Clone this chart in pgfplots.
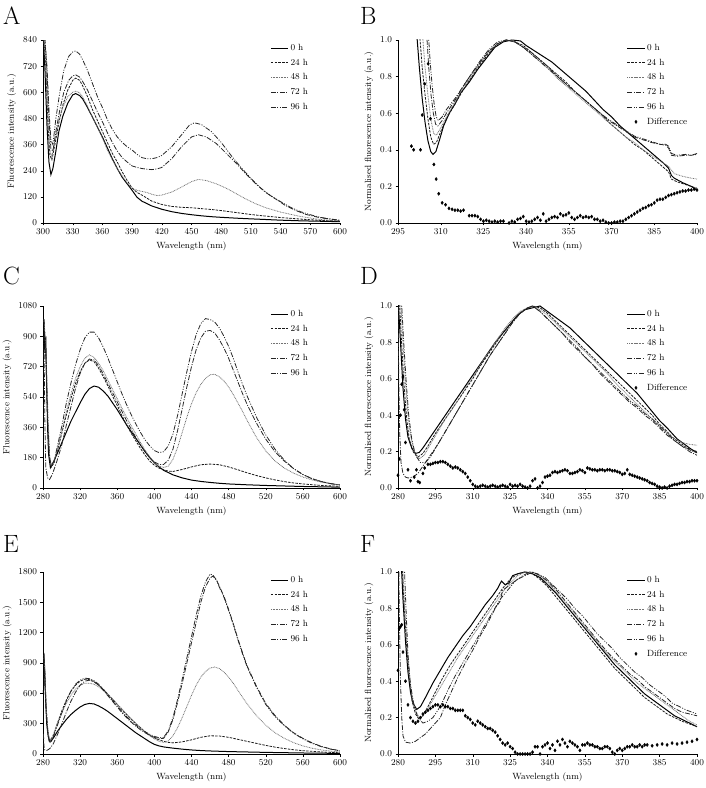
\documentclass[border=0pt]{standalone}
\usepackage{pgfplots}
\pgfplotsset{compat=1.18}
\pgfplotsset{
  base/.style={scale only axis, width=297pt, height=183pt, anchor=south west,
    axis lines=left, axis line style={-, thin, black}, tick align=outside,
    major tick length=2.5pt, tick style={thin, black},
    ticklabel style={font=\fontsize{9}{10}\selectfont},
    /pgf/number format/1000 sep={},
    label style={font=\fontsize{9}{10}\selectfont},
    xlabel={Wavelength (nm)}, ymin=0,
    legend style={draw=none, fill=none, font=\fontsize{9}{10}\selectfont,
      at={(0.755,1.0)}, anchor=north west, row sep=3pt},
    legend cell align=left},
  normy/.style={ylabel={Normalised fluorescence intensity (a.u.)}, ymax=1.0,
    ytick={0,0.2,0.4,0.6,0.8,1.0},
    yticklabel style={/pgf/number format/.cd, fixed, fixed zerofill, precision=1}},
  s0/.style={black, line width=1pt, solid, no marks},
  s24/.style={black!90, line width=0.8pt, dash pattern=on 2.5pt off 1.2pt, no marks},
  s48/.style={black!55, line width=0.8pt, dash pattern=on 0.8pt off 0.8pt, no marks},
  s72/.style={black!85, line width=0.8pt, dash pattern=on 5pt off 1.5pt on 1pt off 1.5pt, no marks},
  s96/.style={black!85, line width=0.8pt, dash pattern=on 5pt off 1.5pt on 1pt off 1.5pt on 1pt off 1.5pt, no marks},
  sd/.style={only marks, mark=diamond*, mark size=1.6pt, black},
}
\begin{document}
\begin{tikzpicture}
\path[use as bounding box] (0,0) rectangle (706pt,788pt);
\node[anchor=base west, font=\fontsize{25}{25}\selectfont, inner sep=0] at (3pt,763pt) {A};
\node[anchor=base west, font=\fontsize{25}{25}\selectfont, inner sep=0] at (360pt,763pt) {B};
\node[anchor=base west, font=\fontsize{25}{25}\selectfont, inner sep=0] at (3pt,503pt) {C};
\node[anchor=base west, font=\fontsize{25}{25}\selectfont, inner sep=0] at (360pt,503pt) {D};
\node[anchor=base west, font=\fontsize{25}{25}\selectfont, inner sep=0] at (3pt,235pt) {E};
\node[anchor=base west, font=\fontsize{25}{25}\selectfont, inner sep=0] at (360pt,235pt) {F};

% ---------------- A ----------------
\begin{axis}[base, at={(43pt,565pt)}, xmin=300, xmax=600, ymax=840,
  xtick={300,330,...,600}, ytick={0,120,...,840},
  ylabel={Fluorescence intensity (a.u.)}]
\addplot[s0] coordinates {(300,900)(302,700)(304,450)(306,280)(308,222)(310,250)(313,330)(316,420)(320,490)(325,550)(330,588)(333,594)(337,585)(340,570)(345,530)(350,485)(355,440)(360,395)(365,345)(370,295)(375,250)(380,210)(385,180)(390,150)(395,118)(400,100)(410,78)(420,63)(430,52)(440,44)(450,38)(460,33)(470,29)(480,26)(500,21)(520,17)(540,13)(560,10)(580,8)(600,6)};
\addplot[s24] coordinates {(300,900)(303,700)(305,450)(307,310)(309,290)(312,360)(316,460)(320,540)(325,610)(330,655)(333,665)(337,655)(340,630)(345,580)(350,520)(355,470)(360,420)(365,370)(370,320)(375,280)(380,235)(385,195)(390,160)(395,140)(400,128)(410,100)(420,85)(430,76)(440,72)(450,70)(460,66)(470,62)(480,57)(490,51)(500,45)(510,39)(520,34)(540,25)(560,18)(580,12)(600,8)};
\addplot[s48] coordinates {(300,900)(303,700)(305,480)(307,330)(309,305)(312,380)(316,470)(320,530)(325,580)(330,600)(333,605)(337,598)(340,580)(345,535)(350,485)(355,440)(360,390)(365,335)(370,290)(375,250)(380,215)(385,185)(390,160)(395,150)(400,145)(405,140)(410,132)(415,126)(420,128)(430,142)(440,165)(450,190)(457,200)(465,195)(475,180)(485,160)(495,135)(505,110)(515,88)(525,70)(540,50)(560,30)(580,16)(600,9)};
\addplot[s72] coordinates {(301,900)(304,700)(306,480)(308,340)(310,330)(313,420)(317,520)(321,600)(326,655)(330,675)(333,680)(337,670)(340,650)(345,610)(350,560)(355,510)(360,465)(365,415)(370,370)(375,330)(380,300)(385,280)(390,262)(395,255)(400,250)(405,247)(410,245)(415,248)(420,255)(430,295)(440,350)(450,395)(457,405)(465,395)(475,365)(485,320)(495,275)(505,225)(515,180)(525,140)(535,110)(545,80)(555,58)(565,40)(580,24)(600,12)};
\addplot[s96] coordinates {(301,900)(304,720)(306,520)(308,380)(310,360)(313,480)(317,600)(321,700)(326,765)(330,785)(333,790)(337,775)(340,750)(345,700)(350,640)(355,580)(360,530)(365,475)(370,430)(375,395)(380,370)(385,350)(390,335)(395,315)(400,300)(405,295)(410,295)(415,300)(420,310)(430,350)(440,405)(448,450)(453,460)(460,452)(470,420)(480,370)(490,310)(500,255)(510,205)(520,160)(530,125)(540,98)(550,72)(560,52)(570,38)(580,26)(600,12)};
\legend{0 h,24 h,48 h,72 h,96 h}
\end{axis}

% ---------------- B ----------------
\begin{axis}[base, normy, at={(398pt,565pt)}, width=299pt, xmin=295, xmax=400,
  xtick={295,310,...,400}]
\addplot[s0] coordinates {(301.5,1.05)(302.5,0.85)(303.5,0.68)(304.5,0.55)(305.5,0.45)(306.5,0.39)(307.3,0.375)(308.3,0.39)(309.5,0.45)(311,0.53)(313,0.6)(315,0.65)(317,0.71)(320,0.77)(323,0.84)(326,0.9)(329,0.96)(332,0.99)(335,1.0)(338,0.995)(340,0.97)(343,0.94)(346,0.91)(349,0.88)(352,0.84)(355,0.8)(358,0.76)(361,0.72)(364,0.67)(367,0.62)(370,0.58)(373,0.53)(376,0.49)(379,0.45)(382,0.41)(385,0.37)(388,0.33)(390,0.3)(391,0.26)(392,0.245)(395,0.22)(398,0.2)(400,0.18)};
\addplot[s24] coordinates {(302.5,1.05)(303.5,0.85)(304.5,0.7)(305.5,0.57)(306.5,0.47)(307.5,0.43)(308.5,0.44)(310,0.5)(312,0.57)(315,0.65)(318,0.73)(321,0.8)(324,0.87)(327,0.93)(330,0.98)(333,1.0)(336,0.99)(339,0.97)(342,0.93)(345,0.89)(348,0.85)(351,0.81)(354,0.77)(357,0.72)(360,0.68)(363,0.64)(366,0.6)(369,0.55)(372,0.51)(375,0.47)(378,0.43)(381,0.4)(384,0.36)(387,0.32)(390,0.28)(391,0.24)(393,0.225)(396,0.21)(400,0.19)};
\addplot[s48] coordinates {(303.5,1.05)(304.5,0.85)(305.5,0.7)(306.5,0.57)(307.5,0.49)(308.5,0.48)(310,0.52)(312,0.58)(315,0.66)(318,0.74)(321,0.81)(324,0.88)(327,0.94)(330,0.98)(333,1.0)(336,0.99)(339,0.96)(342,0.92)(345,0.88)(348,0.84)(351,0.79)(354,0.75)(357,0.71)(360,0.67)(363,0.63)(366,0.59)(369,0.55)(372,0.51)(375,0.47)(378,0.44)(381,0.4)(384,0.37)(387,0.34)(390,0.31)(392,0.27)(395,0.255)(398,0.245)(400,0.24)};
\addplot[s72] coordinates {(305,1.05)(305.8,0.85)(306.6,0.7)(307.4,0.6)(308.2,0.54)(309,0.53)(310.5,0.56)(312,0.6)(315,0.67)(318,0.75)(321,0.82)(324,0.88)(327,0.94)(330,0.98)(333,1.0)(336,0.99)(339,0.96)(342,0.93)(345,0.89)(348,0.85)(351,0.8)(354,0.76)(357,0.72)(360,0.68)(363,0.64)(366,0.6)(369,0.56)(372,0.53)(375,0.5)(378,0.47)(381,0.455)(384,0.44)(387,0.43)(389,0.425)(390,0.41)(391,0.37)(393,0.365)(396,0.37)(398,0.37)(400,0.375)};
\addplot[s96] coordinates {(305.6,1.05)(306.3,0.88)(307,0.75)(307.7,0.65)(308.4,0.58)(309.2,0.56)(310.5,0.58)(312,0.62)(315,0.68)(318,0.75)(321,0.82)(324,0.89)(327,0.95)(330,0.99)(333,1.0)(336,0.99)(339,0.96)(342,0.92)(345,0.88)(348,0.84)(351,0.8)(354,0.76)(357,0.72)(360,0.68)(363,0.64)(366,0.6)(369,0.565)(372,0.535)(375,0.505)(378,0.475)(381,0.46)(384,0.445)(387,0.43)(389,0.43)(390,0.42)(391,0.38)(393,0.37)(396,0.375)(398,0.37)(400,0.38)};
\addplot[sd] coordinates {(299.7,0.42)(300.5,0.40)(302.9,0.40)(303.5,0.59)(304.4,0.76)(305.6,0.87)(306.4,0.57)(307.6,0.32)(308.4,0.24)(309.3,0.16)(310.5,0.11)(311.7,0.10)(312.9,0.08)(314,0.075)(315,0.07)(316,0.07)(317,0.065)(318,0.07)(320,0.04)(321,0.04)(322,0.04)(323,0.035)(324,0.02)(325,0.01)(326,0.015)(327,0.01)(328,0.005)(329,0.01)(330,0.005)(331,0.01)(332,0.01)(334,0.0)(335,0.01)(336,0.005)(337,0.02)(338,0.025)(339,0.035)(340,0.01)(341,0.005)(342,0.01)(343,0.02)(344,0.03)(345,0.015)(346,0.05)(347,0.01)(348,0.02)(349,0.03)(350,0.035)(351,0.03)(352,0.05)(353,0.04)(354,0.045)(355,0.055)(356,0.03)(357,0.02)(358,0.03)(359,0.04)(360,0.03)(361,0.035)(362,0.03)(363,0.035)(364,0.02)(365,0.02)(366,0.01)(367,0.015)(368,0.005)(369,0.0)(370,0.0)(371,0.005)(372,0.005)(373,0.01)(374,0.01)(375,0.02)(376,0.03)(377,0.04)(378,0.05)(379,0.06)(380,0.07)(381,0.08)(382,0.085)(383,0.095)(384,0.1)(385,0.11)(386,0.125)(387,0.13)(388,0.13)(389,0.14)(390,0.15)(391,0.155)(392,0.16)(393,0.165)(394,0.17)(395,0.175)(396,0.175)(397,0.18)(398,0.18)(399,0.185)(400,0.18)};
\legend{0 h,24 h,48 h,72 h,96 h,Difference}
\end{axis}

% ---------------- C ----------------
\begin{axis}[base, at={(43pt,300pt)}, height=182pt, xmin=280, xmax=600, ymax=1080,
  xtick={280,320,...,600}, ytick={0,180,...,1080},
  ylabel={Fluorescence intensity (a.u.)}]
\addplot[s0] coordinates {(281,1000)(282,800)(283,900)(284,600)(285,350)(286,200)(288,120)(290,140)(295,200)(300,265)(305,330)(310,395)(315,450)(320,505)(325,555)(330,590)(335,605)(340,598)(345,575)(350,545)(355,505)(360,465)(365,420)(370,375)(375,335)(380,295)(385,255)(390,215)(395,180)(400,150)(405,125)(410,105)(420,78)(430,60)(440,47)(450,39)(460,33)(470,28)(480,24)(500,19)(520,15)(540,12)(560,9)(580,7)(600,5)};
\addplot[s24] coordinates {(281,950)(283,800)(285,400)(287,180)(289,125)(292,150)(296,230)(300,320)(305,430)(310,530)(315,620)(320,690)(325,740)(330,760)(335,750)(340,710)(345,660)(350,605)(355,545)(360,490)(365,430)(370,375)(375,325)(380,280)(385,235)(390,195)(395,160)(400,135)(405,118)(410,108)(415,100)(420,98)(430,110)(440,125)(450,138)(460,142)(470,138)(480,125)(490,108)(500,90)(510,74)(520,60)(530,48)(540,38)(550,30)(560,24)(580,15)(600,10)};
\addplot[s48] coordinates {(281,1000)(283,850)(285,500)(287,200)(289,135)(292,160)(296,240)(300,330)(305,450)(310,555)(315,650)(320,720)(325,770)(330,790)(335,775)(340,740)(345,695)(350,640)(355,585)(360,530)(365,475)(370,420)(375,370)(380,320)(385,270)(390,225)(395,185)(400,150)(405,130)(410,122)(415,130)(420,170)(425,240)(430,330)(435,420)(440,500)(445,565)(450,615)(455,650)(460,672)(465,675)(470,660)(475,635)(480,600)(485,555)(490,505)(495,455)(500,400)(510,300)(520,220)(530,160)(540,118)(550,88)(560,65)(570,48)(580,35)(590,25)(600,18)};
\addplot[s72] coordinates {(281,900)(282,400)(283,120)(285,60)(287,50)(290,80)(295,160)(300,250)(305,370)(310,480)(315,590)(320,680)(325,740)(330,765)(335,760)(340,725)(345,675)(350,620)(355,565)(360,510)(365,455)(370,400)(375,350)(380,300)(385,255)(390,215)(395,180)(400,155)(405,140)(410,140)(415,165)(420,230)(425,340)(430,470)(435,600)(440,720)(445,820)(450,890)(455,930)(460,935)(465,920)(470,880)(475,830)(480,770)(485,700)(490,630)(495,560)(500,495)(510,385)(520,290)(530,215)(540,160)(550,115)(560,80)(570,55)(580,38)(590,26)(600,18)};
\addplot[s96] coordinates {(281,1000)(283,800)(285,400)(287,180)(289,130)(292,160)(296,260)(300,360)(305,500)(310,620)(315,730)(320,820)(325,890)(330,925)(335,925)(340,890)(345,835)(350,770)(355,700)(360,630)(365,560)(370,495)(375,435)(380,380)(385,330)(390,285)(395,250)(400,222)(405,210)(410,215)(415,250)(420,320)(425,430)(430,560)(435,690)(440,810)(445,910)(450,975)(455,1005)(460,1000)(465,985)(470,950)(475,900)(480,840)(485,770)(490,690)(495,615)(500,545)(510,420)(520,315)(530,230)(540,165)(550,115)(560,80)(570,55)(580,38)(590,26)(600,18)};
\legend{0 h,24 h,48 h,72 h,96 h}
\end{axis}

% ---------------- D ----------------
\begin{axis}[base, normy, at={(398pt,300pt)}, width=299pt, height=182pt, xmin=280, xmax=400,
  xtick={280,295,...,400}]
\addplot[s0] coordinates {(280,1.05)(281,0.8)(282,0.55)(283,0.38)(284,0.28)(285.5,0.22)(287,0.19)(288.5,0.195)(290,0.22)(292,0.26)(295,0.32)(298,0.38)(301,0.44)(304,0.5)(307,0.56)(310,0.62)(313,0.68)(316,0.74)(319,0.8)(322,0.85)(325,0.9)(328,0.95)(331,0.98)(334,0.99)(337,1.0)(340,0.97)(343,0.94)(346,0.91)(349,0.88)(352,0.84)(355,0.8)(358,0.76)(361,0.72)(364,0.68)(367,0.64)(370,0.6)(373,0.56)(376,0.52)(379,0.47)(382,0.42)(385,0.37)(388,0.33)(390,0.3)(392,0.27)(395,0.24)(398,0.21)(400,0.195)};
\addplot[s24] coordinates {(280.5,1.05)(281.5,0.78)(282.5,0.55)(283.5,0.38)(284.5,0.27)(286,0.2)(288,0.17)(290,0.19)(292,0.23)(295,0.3)(298,0.36)(301,0.42)(304,0.48)(307,0.54)(310,0.6)(313,0.67)(316,0.73)(319,0.79)(322,0.85)(325,0.9)(328,0.95)(331,0.98)(334,1.0)(337,0.99)(340,0.96)(343,0.92)(346,0.88)(349,0.84)(352,0.8)(355,0.76)(358,0.72)(361,0.68)(364,0.64)(367,0.6)(370,0.56)(373,0.52)(376,0.48)(379,0.44)(382,0.4)(385,0.35)(388,0.31)(390,0.28)(393,0.25)(396,0.22)(400,0.2)};
\addplot[s48] coordinates {(281,1.05)(282,0.8)(283,0.58)(284,0.4)(285,0.29)(286.5,0.2)(288.5,0.16)(290.5,0.18)(293,0.24)(296,0.31)(299,0.38)(302,0.44)(305,0.5)(308,0.57)(311,0.63)(314,0.7)(317,0.76)(320,0.82)(323,0.88)(326,0.93)(329,0.97)(332,0.99)(334,1.0)(337,0.98)(340,0.95)(343,0.91)(346,0.87)(349,0.83)(352,0.79)(355,0.75)(358,0.71)(361,0.67)(364,0.63)(367,0.58)(370,0.54)(373,0.5)(376,0.46)(379,0.42)(382,0.38)(385,0.34)(388,0.3)(391,0.27)(394,0.25)(397,0.24)(400,0.235)};
\addplot[s72] coordinates {(280,1.05)(280.3,0.6)(280.7,0.3)(281.2,0.14)(282,0.08)(283,0.06)(284,0.055)(286,0.06)(288,0.08)(290,0.12)(293,0.18)(296,0.24)(299,0.31)(302,0.38)(305,0.45)(308,0.52)(311,0.59)(314,0.66)(317,0.73)(320,0.79)(323,0.85)(326,0.91)(329,0.96)(332,0.99)(334,1.0)(337,0.97)(340,0.93)(343,0.89)(346,0.85)(349,0.8)(352,0.76)(355,0.72)(358,0.68)(361,0.63)(364,0.59)(367,0.55)(370,0.51)(373,0.47)(376,0.44)(379,0.4)(382,0.37)(385,0.33)(388,0.29)(391,0.26)(394,0.23)(397,0.2)(400,0.18)};
\addplot[s96] coordinates {(281.3,1.05)(282.3,0.8)(283.3,0.58)(284.3,0.4)(285.5,0.27)(287,0.18)(289,0.14)(291,0.14)(293,0.17)(296,0.24)(299,0.31)(302,0.38)(305,0.45)(308,0.52)(311,0.59)(314,0.66)(317,0.73)(320,0.79)(323,0.85)(326,0.91)(329,0.96)(332,0.99)(334,1.0)(337,0.97)(340,0.93)(343,0.89)(346,0.85)(349,0.81)(352,0.77)(355,0.72)(358,0.68)(361,0.64)(364,0.6)(367,0.56)(370,0.52)(373,0.48)(376,0.45)(379,0.41)(382,0.38)(385,0.34)(388,0.3)(391,0.26)(394,0.23)(397,0.21)(400,0.19)};
\addplot[sd] coordinates {(280,0.07)(280.5,0.16)(281,0.40)(281.5,0.57)(282,0.61)(282.5,0.43)(283,0.25)(284,0.1)(285,0.04)(286.5,0.06)(287.4,0.10)(288,0.035)(288.7,0.03)(290,0.08)(290.7,0.11)(292,0.13)(293,0.13)(294,0.135)(295,0.14)(296,0.14)(297,0.145)(298,0.145)(299,0.14)(300,0.13)(301,0.12)(302,0.11)(303,0.115)(304,0.11)(305,0.1)(306,0.09)(307,0.08)(308,0.06)(309,0.04)(310,0.02)(311,0.01)(312,0.005)(313,0.01)(314,0.015)(315,0.01)(316,0.005)(317,0.01)(318,0.015)(319,0.01)(320,0.005)(321,0.01)(322,0.015)(323,0.01)(324,0.005)(325,0.02)(326,0.01)(327,0.015)(328,0.01)(329,0.02)(330,0.01)(331,0.005)(332,0.0)(333,0.01)(334,0.04)(335,0.05)(336,0.0)(337,0.01)(338,0.03)(339,0.06)(340,0.065)(341,0.07)(342,0.085)(343,0.09)(344,0.085)(345,0.09)(346,0.095)(347,0.1)(348,0.095)(349,0.08)(350,0.08)(351,0.085)(352,0.09)(353,0.1)(354,0.095)(355,0.085)(356,0.11)(357,0.105)(358,0.1)(359,0.1)(360,0.095)(361,0.1)(362,0.1)(363,0.095)(364,0.1)(365,0.1)(366,0.095)(367,0.095)(368,0.09)(369,0.085)(370,0.075)(371,0.08)(372,0.1)(373,0.075)(374,0.07)(375,0.065)(376,0.06)(377,0.055)(378,0.05)(379,0.045)(380,0.04)(381,0.03)(382,0.025)(383,0.02)(384,0.01)(385,0.005)(386,0.0)(387,0.005)(388,0.0)(389,0.01)(390,0.015)(391,0.02)(392,0.02)(393,0.025)(394,0.03)(395,0.03)(396,0.035)(397,0.035)(398,0.04)(399,0.04)(400,0.04)};
\legend{0 h,24 h,48 h,72 h,96 h,Difference}
\end{axis}

% ---------------- E ----------------
\begin{axis}[base, at={(43pt,34pt)}, height=182pt, xmin=280, xmax=600, ymax=1800,
  xtick={280,320,...,600}, ytick={0,300,...,1800},
  ylabel={Fluorescence intensity (a.u.)}]
\addplot[s0] coordinates {(280.5,600)(281,1000)(282,800)(283,500)(284,300)(285.5,180)(287,125)(289,130)(292,170)(296,230)(300,280)(305,340)(310,390)(315,430)(320,465)(325,490)(330,500)(335,495)(340,475)(345,450)(350,420)(355,385)(360,350)(365,315)(370,280)(375,245)(380,210)(385,180)(390,150)(395,120)(400,95)(405,80)(410,70)(420,58)(430,48)(440,40)(450,34)(460,30)(480,24)(500,20)(520,16)(540,13)(560,10)(580,8)(600,6)};
\addplot[s24] coordinates {(281,950)(282,800)(283.5,450)(285,250)(286.5,150)(288,130)(291,180)(295,290)(300,420)(305,530)(310,620)(315,680)(320,720)(325,740)(330,735)(335,715)(340,680)(345,640)(350,590)(355,540)(360,490)(365,440)(370,390)(375,345)(380,300)(385,260)(390,220)(395,185)(400,160)(405,140)(410,125)(415,115)(420,110)(430,120)(440,140)(450,165)(460,180)(470,178)(480,165)(490,145)(500,125)(510,105)(520,85)(530,68)(540,54)(550,42)(560,33)(580,20)(600,12)};
\addplot[s48] coordinates {(281,980)(282,800)(283.5,450)(285,260)(286.5,160)(288,140)(291,190)(295,290)(300,400)(305,500)(310,580)(315,640)(320,680)(325,700)(330,700)(335,690)(340,665)(345,630)(350,590)(355,545)(360,495)(365,445)(370,395)(375,350)(380,305)(385,260)(390,220)(395,180)(400,150)(405,125)(410,115)(415,130)(420,180)(425,260)(430,360)(435,470)(440,580)(445,680)(450,760)(455,815)(460,850)(465,860)(470,845)(475,810)(480,760)(485,700)(490,630)(495,560)(500,495)(510,380)(520,285)(530,210)(540,155)(550,112)(560,80)(570,57)(580,40)(590,28)(600,20)};
\addplot[s72] coordinates {(280.5,200)(281,80)(282,40)(284,35)(286,45)(288,60)(291,100)(295,180)(300,290)(305,410)(310,520)(315,610)(320,680)(325,720)(330,730)(335,715)(340,680)(345,630)(350,575)(355,520)(360,465)(365,410)(370,360)(375,315)(380,275)(385,240)(390,210)(395,185)(400,165)(405,150)(410,155)(415,220)(420,340)(425,510)(430,700)(435,900)(440,1100)(445,1300)(450,1500)(455,1650)(460,1740)(463,1760)(467,1720)(470,1660)(475,1560)(480,1430)(485,1290)(490,1140)(495,1000)(500,870)(510,670)(520,500)(530,380)(540,285)(550,210)(560,155)(570,110)(580,75)(590,50)(600,32)};
\addplot[s96] coordinates {(281,950)(282,700)(283.5,400)(285,220)(286.5,130)(288,110)(291,160)(295,270)(300,400)(305,520)(310,620)(315,690)(320,730)(325,750)(330,745)(335,725)(340,690)(345,640)(350,585)(355,530)(360,475)(365,420)(370,370)(375,325)(380,285)(385,250)(390,220)(395,195)(400,175)(405,160)(410,165)(415,230)(420,360)(425,540)(430,740)(435,950)(440,1160)(445,1370)(450,1560)(455,1700)(460,1780)(463,1770)(467,1720)(470,1650)(475,1550)(480,1420)(485,1280)(490,1130)(495,990)(500,860)(510,660)(520,490)(530,370)(540,280)(550,205)(560,150)(570,105)(580,72)(590,48)(600,30)};
\legend{0 h,24 h,48 h,72 h,96 h}
\end{axis}

% ---------------- F ----------------
\begin{axis}[base, normy, at={(398pt,34pt)}, width=299pt, height=182pt, xmin=280, xmax=400,
  xtick={280,295,...,400}]
\addplot[s0] coordinates {(280,0.9)(280.2,1.05)(281.3,1.05)(282,0.85)(283,0.62)(284,0.45)(285,0.34)(286,0.28)(287.5,0.245)(289,0.26)(291,0.31)(294,0.39)(297,0.46)(300,0.53)(303,0.59)(306,0.65)(309,0.7)(312,0.76)(315,0.82)(318,0.87)(320,0.91)(321.5,0.95)(323,0.93)(324.5,0.94)(326,0.98)(328,0.99)(331,1.0)(334,0.99)(337,0.97)(340,0.93)(343,0.89)(346,0.84)(349,0.79)(352,0.74)(355,0.69)(358,0.64)(361,0.59)(364,0.54)(367,0.49)(370,0.45)(373,0.41)(376,0.37)(379,0.33)(382,0.3)(385,0.27)(388,0.24)(391,0.21)(394,0.19)(397,0.17)(400,0.15)};
\addplot[s24] coordinates {(281.6,1.05)(282.5,0.8)(283.5,0.58)(284.5,0.42)(285.5,0.3)(287,0.22)(288.5,0.19)(290,0.21)(292,0.26)(295,0.34)(298,0.42)(301,0.49)(304,0.55)(307,0.61)(310,0.67)(313,0.73)(316,0.79)(319,0.85)(322,0.91)(325,0.96)(328,0.99)(331,1.0)(334,0.99)(337,0.96)(340,0.92)(343,0.87)(346,0.82)(349,0.77)(352,0.72)(355,0.67)(358,0.62)(361,0.57)(364,0.52)(367,0.47)(370,0.43)(373,0.39)(376,0.35)(379,0.31)(382,0.28)(385,0.25)(388,0.22)(391,0.2)(394,0.18)(397,0.165)(400,0.15)};
\addplot[s48] coordinates {(281.8,1.05)(282.7,0.8)(283.7,0.58)(284.7,0.42)(285.7,0.31)(287,0.24)(288.5,0.2)(290,0.21)(292,0.25)(295,0.32)(298,0.39)(301,0.46)(304,0.53)(307,0.59)(310,0.65)(313,0.71)(316,0.77)(319,0.83)(322,0.89)(325,0.94)(328,0.98)(331,1.0)(334,1.0)(337,0.98)(340,0.94)(343,0.9)(346,0.85)(349,0.8)(352,0.75)(355,0.7)(358,0.65)(361,0.6)(364,0.55)(367,0.51)(370,0.47)(373,0.43)(376,0.39)(379,0.36)(382,0.33)(385,0.3)(388,0.27)(391,0.24)(394,0.21)(397,0.18)(400,0.16)};
\addplot[s72] coordinates {(280.3,1.05)(280.6,0.7)(281,0.4)(281.5,0.2)(282,0.1)(283,0.065)(285,0.06)(287,0.07)(289,0.09)(291,0.11)(293,0.14)(295,0.17)(297,0.2)(299,0.27)(301,0.33)(304,0.42)(307,0.5)(310,0.57)(313,0.65)(316,0.72)(319,0.8)(321,0.84)(322,0.9)(325,0.93)(328,0.96)(331,0.98)(334,1.0)(337,0.98)(340,0.95)(343,0.91)(346,0.86)(349,0.81)(352,0.76)(355,0.71)(358,0.66)(361,0.61)(364,0.56)(367,0.52)(370,0.48)(373,0.44)(376,0.41)(379,0.37)(382,0.34)(385,0.31)(388,0.28)(391,0.25)(394,0.23)(397,0.22)(400,0.21)};
\addplot[s96] coordinates {(282.5,1.05)(283.2,0.8)(284,0.55)(285,0.38)(286.5,0.26)(288,0.2)(290,0.17)(292,0.18)(294,0.2)(296,0.24)(298,0.29)(300,0.35)(303,0.43)(306,0.5)(309,0.57)(312,0.64)(315,0.71)(318,0.78)(321,0.85)(324,0.9)(327,0.95)(330,0.98)(333,1.0)(336,0.99)(339,0.97)(342,0.93)(345,0.89)(348,0.85)(351,0.8)(354,0.76)(357,0.71)(360,0.66)(363,0.62)(366,0.58)(369,0.53)(372,0.49)(375,0.45)(378,0.42)(381,0.38)(384,0.35)(387,0.32)(390,0.28)(393,0.26)(396,0.24)(400,0.22)};
\addplot[sd] coordinates {(280,0.46)(280.5,0.69)(281,0.7)(281.5,0.71)(282,0.56)(283,0.4)(284,0.27)(285,0.2)(286,0.18)(287,0.17)(288,0.18)(289,0.2)(290,0.22)(291,0.23)(292,0.24)(293,0.25)(294,0.26)(295,0.27)(296,0.27)(297,0.26)(298,0.27)(299,0.26)(300,0.26)(301,0.25)(302,0.25)(303,0.24)(304,0.24)(305,0.24)(306,0.24)(307,0.21)(308,0.2)(309,0.19)(310,0.17)(311,0.16)(312,0.18)(313,0.17)(314,0.16)(315,0.15)(316,0.14)(317,0.14)(318,0.13)(319,0.12)(320,0.1)(321,0.08)(322,0.06)(323,0.05)(324,0.06)(325,0.04)(326,0.03)(327,0.01)(328,0.0)(329,0.0)(330,0.0)(331,0.0)(332,0.0)(333,0.0)(334,0.01)(335,0.04)(336,0.04)(337,0.0)(338,0.04)(339,0.05)(340,0.06)(341,0.03)(342,0.05)(343,0.02)(344,0.07)(345,0.05)(346,0.08)(347,0.06)(348,0.04)(349,0.07)(350,0.06)(351,0.05)(352,0.04)(353,0.02)(354,0.05)(355,0.05)(356,0.06)(357,0.05)(358,0.05)(359,0.04)(360,0.04)(361,0.03)(362,0.03)(363,0.04)(364,0.04)(365,0.03)(366,0.01)(367,0.0)(368,0.02)(369,0.03)(370,0.02)(371,0.03)(372,0.04)(373,0.04)(374,0.05)(375,0.04)(376,0.04)(377,0.05)(378,0.04)(379,0.05)(380,0.05)(382,0.045)(384,0.05)(386,0.055)(388,0.05)(390,0.06)(392,0.055)(394,0.06)(396,0.065)(398,0.07)(400,0.08)};
\legend{0 h,24 h,48 h,72 h,96 h,Difference}
\end{axis}
\end{tikzpicture}
\end{document}
